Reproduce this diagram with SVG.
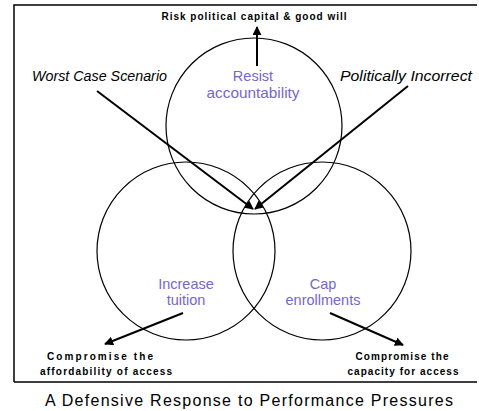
<svg xmlns="http://www.w3.org/2000/svg" width="479" height="411" viewBox="0 0 479 411">
<defs>
<marker id="ah" viewBox="0 0 10 10" refX="9" refY="5" markerWidth="4.5" markerHeight="4.5" orient="auto" markerUnits="strokeWidth">
<path d="M0,0 L10,5 L0,10 z" fill="#000"/>
</marker>
<style>
.c{fill:none;stroke:#000;stroke-width:1.2}
.a{fill:none;stroke:#000;stroke-width:2;marker-end:url(#ah)}
.t{font-family:"Liberation Sans",Arial,sans-serif;font-size:10px;font-weight:bold;fill:#000;text-anchor:middle}
.i{font-family:"Liberation Sans",Arial,sans-serif;font-size:15px;font-style:italic;fill:#000}
.p{font-family:"Liberation Sans",Arial,sans-serif;font-size:14.5px;fill:#7766cc;text-anchor:middle}
.cap{font-family:"Liberation Sans",Arial,sans-serif;font-size:16px;fill:#000;text-anchor:middle}
</style>
</defs>
<rect x="0" y="0" width="479" height="411" fill="#fff"/>
<path d="M14,382 L14,5 L477,5 M14,382 L477,382" fill="none" stroke="#000" stroke-width="1.5"/>
<g id="resist">
<circle class="c" cx="254" cy="126" r="88"/>
<text class="p" x="253" y="81">Resist</text>
<text class="p" x="253" y="98" textLength="93" lengthAdjust="spacingAndGlyphs">accountability</text>
</g>
<g id="tuition">
<circle class="c" cx="186" cy="251" r="89"/>
<text class="p" x="186" y="289">Increase</text>
<text class="p" x="186" y="305">tuition</text>
</g>
<g id="enroll">
<circle class="c" cx="322" cy="251" r="89"/>
<text class="p" x="323" y="289">Cap</text>
<text class="p" x="323" y="305">enrollments</text>
</g>
<g id="labels">
<text class="t" x="254" y="20" textLength="185" lengthAdjust="spacing">Risk political capital &amp; good will</text>
<text class="i" x="32" y="81" textLength="135" lengthAdjust="spacingAndGlyphs">Worst Case Scenario</text>
<text class="i" x="340" y="81" textLength="132" lengthAdjust="spacingAndGlyphs">Politically Incorrect</text>
<text class="t" x="100" y="360" textLength="106" lengthAdjust="spacing">Compromise the</text>
<text class="t" x="106" y="375" textLength="132" lengthAdjust="spacing">affordability of access</text>
<text class="t" x="402" y="360" textLength="93" lengthAdjust="spacing">Compromise the</text>
<text class="t" x="403" y="375" textLength="111" lengthAdjust="spacing">capacity for access</text>
<text class="cap" x="249" y="406" textLength="408" lengthAdjust="spacing">A Defensive Response to Performance Pressures</text>
</g>
<g id="connectors">
<line class="a" x1="97" y1="91" x2="253" y2="209"/>
<line class="a" x1="408" y1="86" x2="255" y2="209"/>
<line class="a" x1="257" y1="66" x2="257" y2="27"/>
<line class="a" x1="183" y1="313" x2="105" y2="344"/>
<line class="a" x1="330" y1="313" x2="403" y2="345"/>
</g>
</svg>
